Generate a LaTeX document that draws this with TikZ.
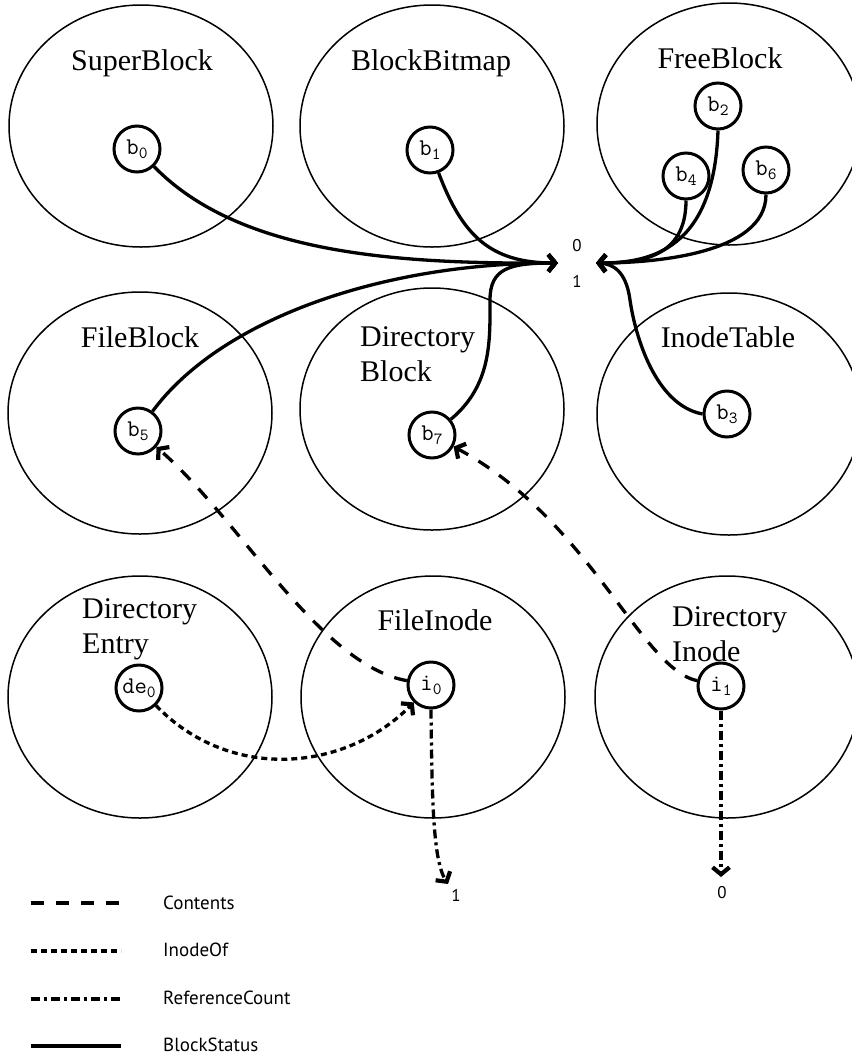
\documentclass[tikz,border=0pt]{standalone}
\usepackage{fontspec}
\setmainfont{Liberation Serif}
\newfontfamily\legfont{PT Sans}
\usetikzlibrary{arrows.meta,shapes.geometric}
\newcommand\nsub[2]{#1\raisebox{-0.4ex}{\fontsize{17}{17}\selectfont #2}}
\begin{document}
\begin{tikzpicture}[x=1pt,y=-1pt,
 big/.style={ellipse,draw,line width=1.5pt,minimum width=264pt,minimum height=242pt,inner sep=0},
 lab/.style={font=\fontsize{30}{35}\selectfont, align=left, inner sep=0},
 sm/.style={circle,draw,line width=3pt,minimum size=46pt,inner sep=0,font=\ttfamily\fontsize{24}{24}\selectfont},
 bs/.style={line width=3.3pt},
 cont/.style={line width=3.3pt,dash pattern=on 13pt off 12pt},
 inof/.style={line width=3.3pt,dash pattern=on 6pt off 4pt},
 rc/.style={line width=3.3pt,dash pattern=on 9pt off 4pt on 3pt off 4pt},
 tip/.style={-{Straight Barb[length=7pt,width=17pt,line width=4.2pt]}},
 num/.style={font=\legfont\fontsize{17}{17}\selectfont,inner sep=0},
 leg/.style={font=\legfont\fontsize{19}{19}\selectfont,anchor=west,inner sep=0}]
\useasboundingbox (0,0) rectangle (852,1061);
\begin{scope}
\clip (0,0) rectangle (852,1061);
% big circles
\node[big] (sb) at (141,126) {};
\node[big] (bb) at (432,126) {};
\node[big] (fb) at (729,124) {};
\node[big] (fileb) at (140,413) {};
\node[big] (dirb) at (432,409) {};
\node[big] (it) at (729,414) {};
\node[big] (de) at (140,697) {};
\node[big] (fi) at (433,697) {};
\node[big] (di) at (727,697) {};
\end{scope}
% labels
\node[lab] (lsb) at (142,63) {SuperBlock};
\node[lab] (lbb) at (431,63) {BlockBitmap};
\node[lab] (lfb) at (720,58) {FreeBlock};
\node[lab] (lfileb) at (140,337) {FileBlock};
\node[lab,anchor=north west] (ldirb) at (360,326) {Directory\\Block};
\node[lab] (lit) at (728,337) {InodeTable};
\node[lab,anchor=north west] (lde) at (82,598) {Directory\\Entry};
\node[lab] (lfi) at (435,620) {FileInode};
\node[lab,anchor=north west] (ldi) at (672,606) {Directory\\Inode};
% small nodes
\node[sm] (b0) at (137,149) {\nsub{b}{0}};
\node[sm] (b1) at (430,150) {\nsub{b}{1}};
\node[sm] (b2) at (718,106) {\nsub{b}{2}};
\node[sm] (b4) at (686,176) {\nsub{b}{4}};
\node[sm] (b6) at (766,170) {\nsub{b}{6}};
\node[sm] (b5) at (138,431) {\nsub{b}{5}};
\node[sm] (b7) at (432,435) {\nsub{b}{7}};
\node[sm] (b3) at (727,414) {\nsub{b}{3}};
\node[sm] (de0) at (139,688) {\nsub{de}{0}};
\node[sm] (i0) at (431,685) {\nsub{i}{0}};
\node[sm] (i1) at (721,686) {\nsub{i}{1}};
% targets
\coordinate (L) at (558,263);
\coordinate (R) at (596,263);
\node[num] (n0) at (577,246) {0};
\node[num] (n1) at (577,281) {1};
\coordinate (rc0) at (448,884);
\coordinate (rc1) at (721,877);
\node[num] (r1) at (456,895) {1};
\node[num] (r0) at (722,893) {0};
% block status
\draw[bs,tip] (b0) .. controls (240,255) and (400,264) .. (L);
\draw[bs,tip] (b1) .. controls (462,235) and (490,263) .. (L);
\draw[bs,tip] (b5) .. controls (220,320) and (380,263) .. (L);
\draw[bs,tip] (b7) .. controls (492,385) and (490,340) .. (490,300) .. controls (490,268) and (510,263) .. (L);
\draw[bs,tip] (b4.south) .. controls (686,258) and (640,263) .. (R);
\draw[bs,tip] (b2.south) .. controls (714,250) and (650,263) .. (R);
\draw[bs,tip] (b6.south) .. controls (766,255) and (650,263) .. (R);
\draw[bs,tip] (b3.west) .. controls (655,405) and (635,335) .. (630,300) .. controls (626,270) and (612,264) .. (R);
% contents
\draw[cont,tip] (i0) .. controls (320,665) and (240,520) .. (b5);
\draw[cont,tip] (i1) .. controls (640,668) and (590,520) .. (b7);
% inodeof
\draw[inof,tip] (de0) .. controls (230,782) and (345,772) .. (i0);
% reference count
\draw[rc,tip] (i0.south) .. controls (432,800) and (433,860) .. (rc0);
\draw[rc,tip] (i1.south) -- (rc1);
% legend
\coordinate (c1a) at (31,903); \coordinate (c1b) at (124,903);
\coordinate (c2a) at (31,951); \coordinate (c2b) at (121,951);
\coordinate (c3a) at (31,999); \coordinate (c3b) at (121,999);
\coordinate (c4a) at (31,1046); \coordinate (c4b) at (121,1046);
\draw[cont] (c1a) -- (c1b);
\draw[inof] (c2a) -- (c2b);
\draw[rc] (c3a) -- (c3b);
\draw[bs] (c4a) -- (c4b);
\node[leg] (t1) at (163,903) {Contents};
\node[leg] (t2) at (163,950) {InodeOf};
\node[leg] (t3) at (163,998) {ReferenceCount};
\node[leg] (t4) at (163,1045) {BlockStatus};
\end{tikzpicture}
\end{document}
